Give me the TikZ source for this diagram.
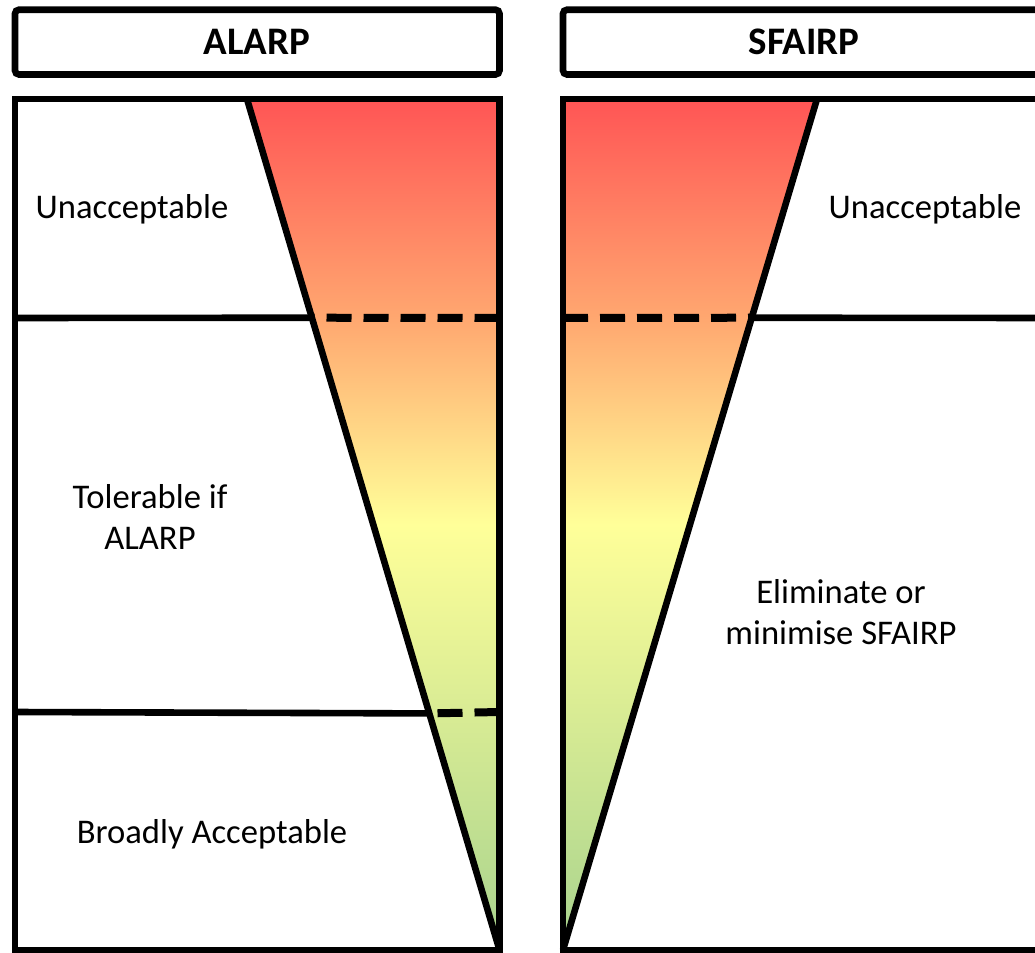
\documentclass[tikz,border=0pt]{standalone}
\usepackage{fontspec}
\setmainfont{Carlito}
\usetikzlibrary{calc}

\definecolor{riskred}{RGB}{255,85,85}
\definecolor{riskorange}{RGB}{255,168,112}
\definecolor{riskyellow}{RGB}{255,255,153}
\definecolor{riskgreen}{RGB}{168,211,142}
\pgfdeclareverticalshading{riskshade}{100bp}{color(0bp)=(riskgreen); color(25bp)=(riskgreen); color(50bp)=(riskyellow); color(62bp)=(riskorange); color(75bp)=(riskred); color(100bp)=(riskred)}

\begin{document}
\begin{tikzpicture}[x=0.5pt,y=-0.5pt,line width=3.3pt,
  zone/.style={font=\fontsize{17.3}{20.5}\selectfont,align=center,inner sep=0pt},
  heading/.style={font=\fontsize{19.5}{23}\selectfont\bfseries,inner sep=0pt},
  cut/.style={line width=4pt,dash pattern=on 12.5pt off 6pt}]

\useasboundingbox (0,0) rectangle (1035,953);
\clip (0,0) rectangle (1035,953);

% left column
\coordinate (LA) at (247,99);
\coordinate (LB) at (499.5,99);
\coordinate (LC) at (499.5,950);
\coordinate (L1) at ($(LA)!0.257!(LC)$);
\coordinate (L2) at ($(LA)!0.722!(LC)$);

% right column
\coordinate (RA) at (563,99);
\coordinate (RB) at (817,99);
\coordinate (RC) at (563,950);
\coordinate (R1) at ($(RB)!0.257!(RC)$);

\shade[shading=riskshade] (LA) -- (LB) -- (LC) -- cycle;
\shade[shading=riskshade] (RA) -- (RB) -- (RC) -- cycle;

\draw (15,318) -- (L1);
\draw[cut] (499.5,318) -- (L1);
\draw (15,712) -- (L2);
\draw[cut] (499.5,712) -- (L2);
\draw[cut] (563,318) -- (R1);
\draw (R1) -- (1050,318);

\draw (LA) -- (LC);
\draw (RB) -- (RC);

\draw[rounded corners=2pt] (15,9.7) rectangle (499.5,74.5);
\draw[rounded corners=2pt] (563,9.7) rectangle (1050,74.5);
\draw (15,99) rectangle (499.5,950);
\draw (563,99) rectangle (1050,950);

\node[heading] (alarp) at (257,42) {ALARP};
\node[heading] (sfairp) at (804,42) {SFAIRP};

\node[zone] (unacc) at (132,209) {Unacceptable};
\node[zone] (toler) at (150,517) {Tolerable if\\ALARP};
\node[zone] (broad) at (212,834) {Broadly Acceptable};
\node[zone] (unaccr) at (925,209) {Unacceptable};
\node[zone] (elim) at (841,612) {Eliminate or\\minimise SFAIRP};

\end{tikzpicture}
\end{document}
